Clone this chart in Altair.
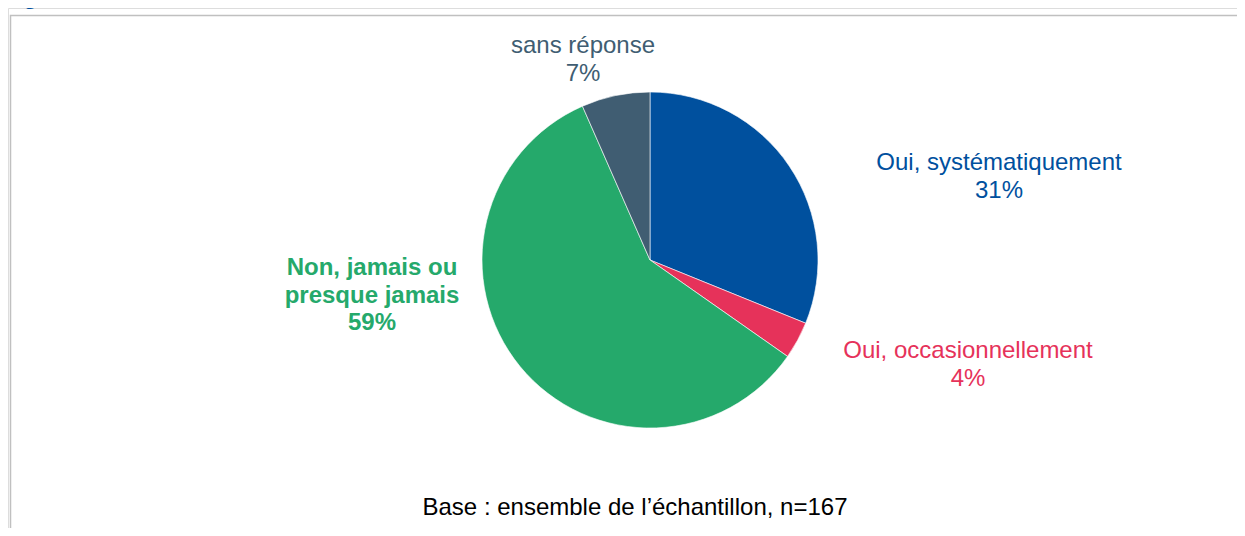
import altair as alt
import pandas as pd

# Data (n=167)
categories = ["Oui, systématiquement", "Oui, occasionnellement",
              "Non, jamais ou presque jamais", "sans réponse"]
counts = [52, 6, 98, 11]
pct_labels = ["31%", "4%", "59%", "7%"]
label_text = ["Oui, systématiquement\n31%", "Oui, occasionnellement\n4%",
              "Non, jamais ou\npresque jamais\n59%", "sans réponse\n7%"]
colors = ["#00509e", "#e6325a", "#25a96b", "#405d72"]

# Layout (chart pixel coordinates; page = chart + 8px margin)
W, H = 1229, 520
CX, CY, R = 642, 252, 168
label_x = [991, 960, 364, 575]
label_y = [155, 343, 260, 38]
label_bold = [False, False, True, False]

df = pd.DataFrame({
    "cat": categories,
    "n": counts,
    "order": list(range(len(categories))),
    "label": label_text,
    "lx": label_x,
    "ly": label_y,
    "bold": label_bold,
})

color_scale = alt.Scale(domain=categories, range=colors)
FONT = "Liberation Sans"

frame = alt.Chart(pd.DataFrame({"a": [0]})).mark_rect(
    fill="white", stroke="#c0c0c0", strokeWidth=1.5
).encode(x=alt.value(2.5), x2=alt.value(W + 20), y=alt.value(7.5), y2=alt.value(H + 20))

pie = alt.Chart(df).mark_arc(outerRadius=R, stroke="#ffffff", strokeWidth=0.6).encode(
    theta=alt.Theta("n:Q", stack=True),
    order=alt.Order("order:Q"),
    color=alt.Color("cat:N", scale=color_scale, legend=None),
    x=alt.value(CX),
    y=alt.value(CY),
)

xs = alt.Scale(domain=[0, W], range=[0, W])
ys = alt.Scale(domain=[0, H], range=[0, H])

def label_layer(bold):
    return alt.Chart(df).transform_filter(
        alt.datum.bold == bold
    ).mark_text(
        font=FONT, fontSize=24, lineBreak="\n", lineHeight=27.5,
        align="center", baseline="middle",
        fontWeight="bold" if bold else "normal",
    ).encode(
        x=alt.X("lx:Q", scale=xs, axis=None),
        y=alt.Y("ly:Q", scale=ys, axis=None),
        text="label:N",
        color=alt.Color("cat:N", scale=color_scale, legend=None),
    )

base_note = alt.Chart(pd.DataFrame({"t": ["Base : ensemble de l’échantillon, n=167"]})).mark_text(
    font=FONT, fontSize=24, color="#000000", align="center", baseline="middle"
).encode(text="t:N", x=alt.value(627), y=alt.value(500))

title = alt.Chart(pd.DataFrame({"t": ["Figure 104 : Existence d’un contrat avec les auteurs"]})).mark_text(
    font=FONT, fontSize=24, fontWeight="bold", color="#0050a0", align="left", baseline="alphabetic"
).encode(text="t:N", x=alt.value(-6), y=alt.value(-4))

chart = alt.layer(frame, pie, label_layer(False), label_layer(True), base_note, title).properties(
    width=W, height=H, padding=0,
    autosize=alt.AutoSizeParams(type="none"),
).configure_view(stroke=None).configure(background="white")

chart.save("out.html", embed_options={"renderer": "svg", "actions": False})
